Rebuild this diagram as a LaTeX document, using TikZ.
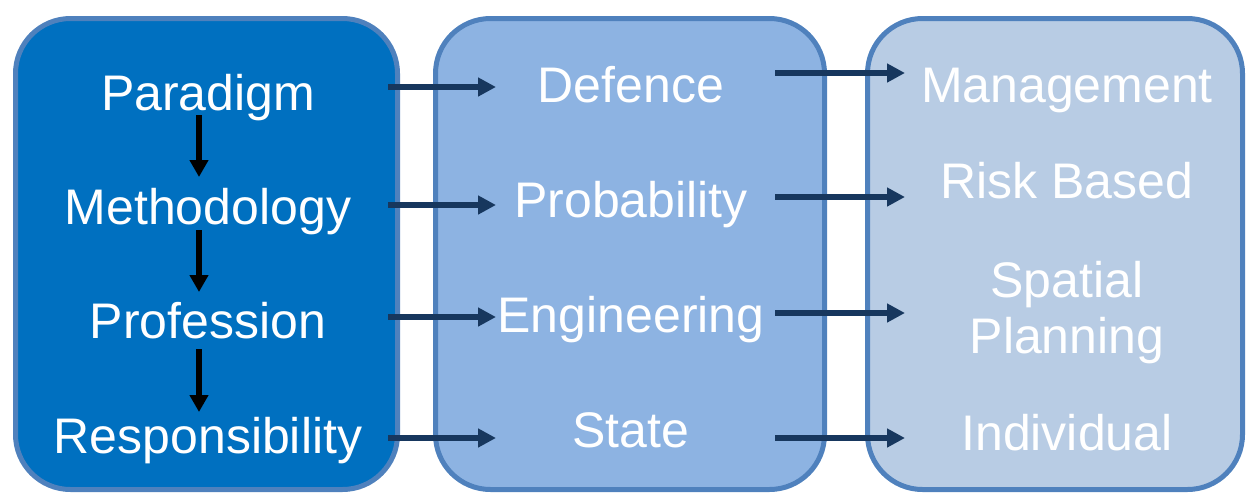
\documentclass[tikz,border=0pt]{standalone}
\usepackage{fontspec}
\setmainfont{Liberation Sans}
\usetikzlibrary{arrows.meta}
\definecolor{bordc}{RGB}{79,129,189}
\definecolor{fillA}{RGB}{0,112,192}
\definecolor{fillB}{RGB}{141,179,226}
\definecolor{fillC}{RGB}{184,204,228}
\definecolor{navy}{RGB}{23,55,94}
\tikzset{
  panel/.style={draw=bordc, line width=5pt, rounded corners=55pt, inner sep=0pt},
  lbl/.style={text=white, font=\fontsize{50}{56}\selectfont, anchor=base, inner sep=0pt},
  harrow/.style={draw=navy, line width=6pt, -{Triangle[length=18pt,width=18pt]}},
  varrow/.style={draw=black, line width=5.5pt, -{Triangle[length=17pt,width=18pt]}}
}
\begin{document}
\begin{tikzpicture}[x=1pt,y=-1pt]
\useasboundingbox (0,0) rectangle (1248,493);
\node[panel, fill=fillA, minimum width=382pt, minimum height=471pt] (b1) at (206.5,254) {};
\node[panel, fill=fillB, minimum width=389pt, minimum height=471pt] (b2) at (630,254) {};
\node[panel, fill=fillC, minimum width=375pt, minimum height=471pt] (b3) at (1055,254) {};
% column 1
\node[lbl] (p1) at (208,110) {Paradigm};
\node[lbl] (p2) at (208,224) {Methodology};
\node[lbl] (p3) at (208,338) {Profession};
\node[lbl] (p4) at (208,453) {Responsibility};
% column 2
\node[lbl] (q1) at (631,102) {Defence};
\node[lbl] (q2) at (631,217) {Probability};
\node[lbl] (q3) at (631,332) {Engineering};
\node[lbl] (q4) at (631,447) {State};
% column 3
\node[lbl] (r1) at (1067,102) {Management};
\node[lbl] (r2) at (1067,198) {Risk Based};
\node[lbl, align=center, font=\fontsize{50}{56}\selectfont] (r3) at (1067,353) {Spatial\\Planning};
\node[lbl] (r4) at (1067,450) {Individual};
% arrow end points
\coordinate (v1s) at (199,115); \coordinate (v1e) at (199,177);
\coordinate (v2s) at (199,230); \coordinate (v2e) at (199,292);
\coordinate (v3s) at (199,349); \coordinate (v3e) at (199,412);
\coordinate (h1s) at (388,87);  \coordinate (h1e) at (496,87);
\coordinate (h2s) at (388,205); \coordinate (h2e) at (496,205);
\coordinate (h3s) at (388,317); \coordinate (h3e) at (496,317);
\coordinate (h4s) at (388,438); \coordinate (h4e) at (496,438);
\coordinate (k1s) at (775,73);  \coordinate (k1e) at (905,73);
\coordinate (k2s) at (775,197); \coordinate (k2e) at (905,197);
\coordinate (k3s) at (775,313); \coordinate (k3e) at (905,313);
\coordinate (k4s) at (775,438); \coordinate (k4e) at (905,438);
\draw[varrow] (v1s) -- (v1e);
\draw[varrow] (v2s) -- (v2e);
\draw[varrow] (v3s) -- (v3e);
\draw[harrow] (h1s) -- (h1e);
\draw[harrow] (h2s) -- (h2e);
\draw[harrow] (h3s) -- (h3e);
\draw[harrow] (h4s) -- (h4e);
\draw[harrow] (k1s) -- (k1e);
\draw[harrow] (k2s) -- (k2e);
\draw[harrow] (k3s) -- (k3e);
\draw[harrow] (k4s) -- (k4e);
\end{tikzpicture}
\end{document}
